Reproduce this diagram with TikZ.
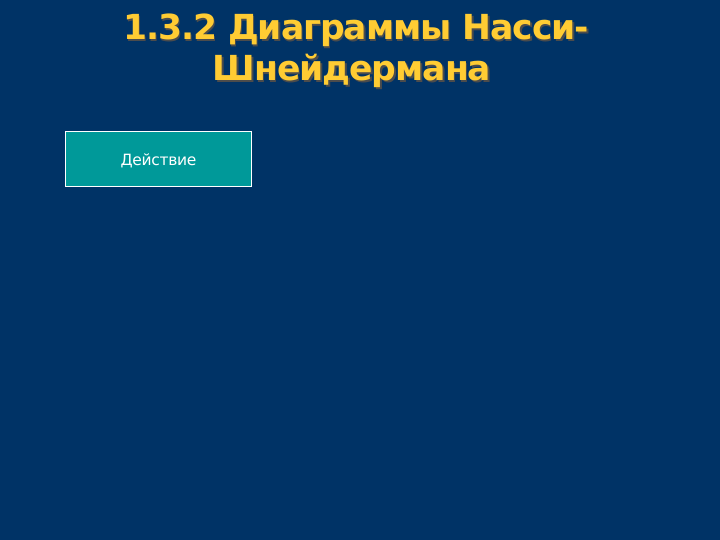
\documentclass[tikz,border=0pt]{standalone}
\usepackage{fontspec}
\setmainfont{DejaVu Sans}
\definecolor{bg}{HTML}{003366}
\definecolor{ttl}{HTML}{FFCC33}
\definecolor{boxc}{HTML}{009999}
\begin{document}
\begin{tikzpicture}[x=1pt,y=1pt,
  titlestyle/.style={font=\fontsize{34.5}{38}\selectfont\bfseries, text=ttl, anchor=base, inner sep=0pt},
  shadowstyle/.style={font=\fontsize{34.5}{38}\selectfont\bfseries, text=black!70, anchor=base, inner sep=0pt},
  actbox/.style={draw=white, line width=0.8pt, fill=boxc, minimum width=186pt, minimum height=55pt, inner sep=0pt},
  acttext/.style={text=white, font=\fontsize{15.5}{17}\selectfont, inner sep=0pt}]
\fill[bg] (0,0) rectangle (720,540);
\useasboundingbox (0,0) rectangle (720,540);
\node[shadowstyle] (t1s) at (357.5,498.5) {\addfontfeature{LetterSpace=-3}1.3.2 Диаграммы Насси-};
\node[titlestyle] (t1) at (356,500) {\addfontfeature{LetterSpace=-3}1.3.2 Диаграммы Насси-};
\node[shadowstyle] (t2s) at (353.5,457.5) {\addfontfeature{LetterSpace=-3}Шнейдермана};
\node[titlestyle] (t2) at (352,459) {\addfontfeature{LetterSpace=-3}Шнейдермана};
\node[actbox] (act) at (158,381.5) {};
\node[acttext] (actlbl) at (158.5,379.5) {\addfontfeature{LetterSpace=-2}Действие};
\end{tikzpicture}
\end{document}
